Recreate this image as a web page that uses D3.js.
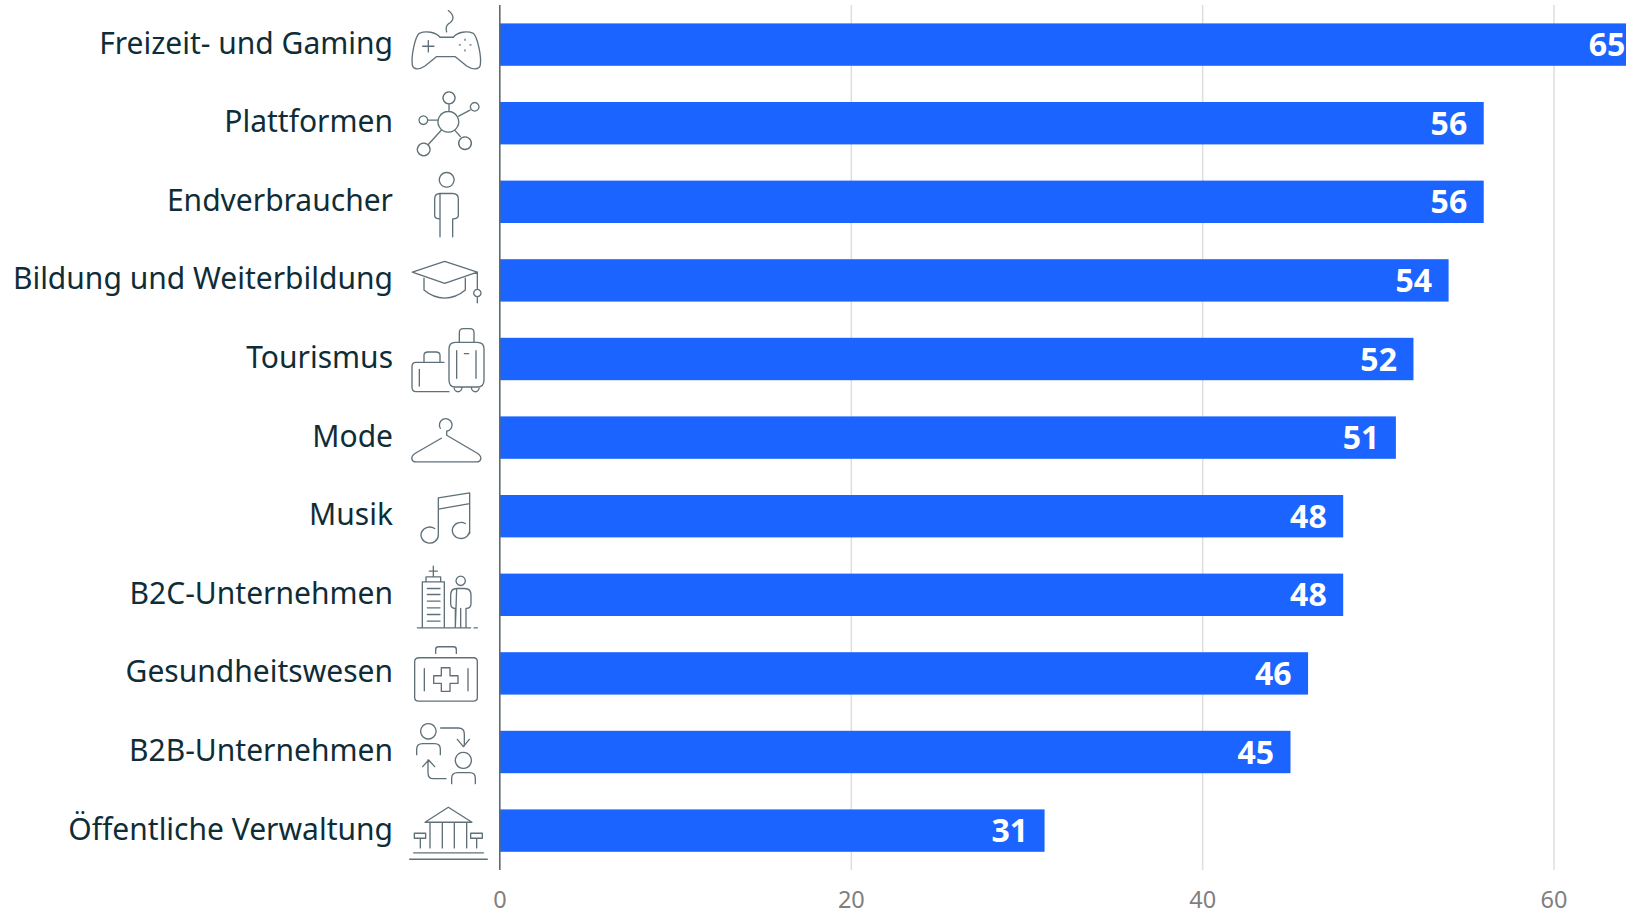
<!DOCTYPE html>
<html><head><meta charset="utf-8">
<script src="https://cdn.jsdelivr.net/npm/d3@7"></script>
<style>html,body{margin:0;padding:0;background:#fff;overflow:hidden}svg{display:block}</style></head>
<body><svg id="c" width="1626" height="914"></svg>
<script>
const categories=["Freizeit- und Gaming","Plattformen","Endverbraucher","Bildung und Weiterbildung","Tourismus","Mode","Musik","B2C-Unternehmen","Gesundheitswesen","B2B-Unternehmen","Öffentliche Verwaltung"];
const values=[65,56,56,54,52,51,48,48,46,45,31];
const xTicks=[0,20,40,60];
const FONT='"Noto Sans",sans-serif';
const svg=d3.select("#c");
const x=d3.scaleLinear().domain([0,60]).range([500,1554]);
const step=78.6;
const y=d3.scaleBand().domain(categories).range([44.6-step/2,44.6-step/2+step*categories.length]).paddingInner(1-42.4/step).paddingOuter((1-42.4/step)/2);

// grid
svg.append("g").selectAll("line").data(xTicks.slice(1)).join("line")
 .attr("x1",d=>x(d)).attr("x2",d=>x(d)).attr("y1",5).attr("y2",870)
 .attr("stroke","#dedede").attr("stroke-width",1.5);
// bars
svg.append("g").selectAll("rect").data(values).join("rect")
 .attr("x",x(0)).attr("width",d=>x(d)-x(0))
 .attr("y",(d,i)=>y(categories[i])).attr("height",y.bandwidth())
 .attr("fill","#1c64ff");
// axis line
svg.append("line").attr("x1",x(0)-0.2).attr("x2",x(0)-0.2).attr("y1",5).attr("y2",870).attr("stroke","#5b6b73").attr("stroke-width",1.6);
// value labels
svg.append("g").selectAll("text").data(values).join("text")
 .attr("x",d=>x(d)-16.5).attr("y",(d,i)=>y(categories[i])+y.bandwidth()/2+11.5)
 .attr("text-anchor","end").attr("fill","#fff").attr("font-family",FONT).attr("font-weight",700).attr("font-size",32)
 .text(d=>d);
// category labels
svg.append("g").selectAll("text").data(categories).join("text")
 .attr("x",393).attr("y",d=>y(d)+y.bandwidth()/2+9)
 .attr("text-anchor","end").attr("fill","#0f2d37").attr("font-family",FONT).attr("font-size",30)
 .text(d=>d);
// tick labels
svg.append("g").selectAll("text").data(xTicks).join("text")
 .attr("x",d=>x(d)).attr("y",907.5).attr("text-anchor","middle").attr("fill","#7f7f7f")
 .attr("font-family",FONT).attr("font-size",23.5).text(d=>d);

// icon glyphs, drawn in 3x local units around each row's centre
const icons=[
 [134,"M1345 32C1365 48 1362 62 1345 72C1335 80 1338 88 1340 96M1320 112H1360C1372 96 1400 92 1420 100C1432 110 1445 170 1441 195C1438 212 1415 208 1400 198L1365 170H1310L1275 198C1260 208 1240 212 1237 195C1233 170 1245 110 1258 100C1278 92 1308 96 1320 112ZM1285 122V156M1268 139H1302M1395 118v3M1395 150v3M1378 135h3M1410 135h3"],
 [370,"M1345 335a31 31 0 1 0 .1 0ZM1347 276a18 18 0 1 0 .1 0ZM1347 312V336M1424 308a13 13 0 1 0 .1 0ZM1376 349L1410 331M1270 348a13 13 0 1 0 .1 0ZM1284 361H1314M1395 411a19 19 0 1 0 .1 0ZM1366 393L1381 410M1271 430a19 19 0 1 0 .1 0ZM1285 434L1323 392"],
 [605,"M1340 517a22 22 0 1 0 .1 0ZM1320 580H1358Q1375 580 1375 597V645Q1375 656 1358 656V710M1320 710V656Q1304 656 1304 645V597Q1304 580 1320 580Z"],
 [841,"M1237 816L1334 784L1432 816L1334 850ZM1272 834V870Q1300 894 1334 894Q1368 894 1396 870V834M1432 816V868M1432 868a11 11 0 1 0 .1 0ZM1432 890V908"],
 [147,"M1366 97H1432Q1452 97 1452 117V210Q1452 231 1432 231H1366Q1347 231 1347 210V117Q1347 97 1366 97ZM1378 97V68Q1378 56 1390 56H1410Q1422 56 1422 68V97M1370 122V205M1428 122V205M1393 131H1406M1362 231a11 13 0 0 0 24 0M1414 231a11 13 0 0 0 24 0M1332 157H1248Q1236 157 1236 170V232Q1236 245 1248 245H1347M1272 157V136Q1272 126 1284 126H1308Q1320 126 1320 136V157M1258 178V228"],
 [383,"M1321 355A19 19 0 1 1 1340 364V376L1432 430C1450 442 1442 456 1430 456H1248C1236 456 1228 442 1246 430L1324 385"],
 [618,"M1315 563L1409 548V670M1315 563V675M1315 597L1409 580M1315 675A26 24 0 1 1 1304 655M1409 660A26 24 0 1 1 1396 640"],
 [854,"M1267 953V815H1333V953M1278 815V800H1322V815M1300 768V800M1288 783H1312M1282 835H1320M1282 853H1320M1282 873H1320M1282 893H1320M1282 913H1320M1282 933H1320M1382 798a14 14 0 1 0 .1 0ZM1370 835H1394Q1413 835 1413 855V880Q1413 895 1398 895V953M1366 953V895Q1352 895 1352 880V855Q1352 835 1370 835ZM1382 895V953M1252 953H1412M1422 953H1432"],
 [160,"M1258 113H1420Q1432 113 1432 125V232Q1432 243 1420 243H1256Q1244 243 1244 232V125Q1244 113 1258 113ZM1307 100V88Q1307 80 1316 80H1360Q1369 80 1369 88V100M1273 146V212M1404 146V212M1324 143H1350V167H1374V190H1350V214H1324V190H1301V167H1324Z"],
 [396,"M1285 311a23 23 0 1 0 .1 0ZM1250 404V388Q1250 371 1268 371H1304Q1321 371 1321 388V404M1322 324H1375Q1393 324 1393 342V378M1372 358L1390 380L1408 358M1390 397a24 24 0 1 0 .1 0ZM1355 491V475Q1355 458 1373 458H1409Q1426 458 1426 475V491M1338 476H1300Q1284 476 1284 458V420M1268 440L1286 420L1304 440"],
 [632,"M1275 607L1345 562L1416 607ZM1290 607V684M1327 607V684M1363 607V684M1400 607V684M1243 640H1277V655H1243ZM1261 655V684M1412 640H1447V655H1412ZM1430 655V684M1241 699H1450M1229 718H1462"]
];
svg.append("g").selectAll("path").data(categories).join("path")
 .attr("transform",(d,i)=>`translate(0,${y(d)+y.bandwidth()/2}) scale(${1/3}) translate(0,${-icons[i][0]})`)
 .attr("d",(d,i)=>icons[i][1])
 .attr("fill","none").attr("stroke","#5f7078").attr("stroke-width",4).attr("stroke-linecap","round").attr("stroke-linejoin","round");
</script></body></html>
